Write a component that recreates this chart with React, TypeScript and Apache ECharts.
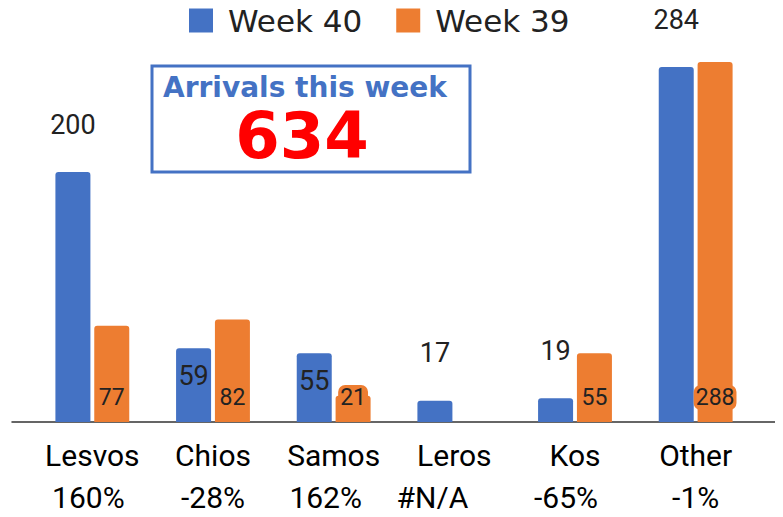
import React, { useEffect, useRef } from "react";
import * as echarts from "echarts";

const categories = ["Lesvos", "Chios", "Samos", "Leros", "Kos", "Other"];
const week40 = [200, 59, 55, 17, 19, 284];
const week39: (number | null)[] = [77, 82, 21, null, 55, 288];
const insideLabel40 = [false, true, true, false, false, false];
// horizontal nudge (px, to the left) of the percentage line under each category
const pctNudge = [4, 0, 8, 22, 9, 0];

const BLUE = "#4472C4";
const ORANGE = "#ED7D31";
const TEXT = "#222222";

function pct(a: number, b: number | null): string {
  if (b === null || b === 0) return "#N/A";
  return Math.round(((a - b) / b) * 100) + "%";
}

export default function App() {
  const ref = useRef<HTMLDivElement>(null);
  useEffect(() => {
    if (!ref.current) return;
    const chart = echarts.init(ref.current, null, { renderer: "svg" });
    const total = week40.reduce((s, v) => s + v, 0);
    const rich: Record<string, any> = {
      n: { fontSize: 30, lineHeight: 42, color: "#000", fontFamily: "Roboto" },
    };
    pctNudge.forEach((d, i) => {
      rich["p" + i] = {
        fontSize: 30,
        lineHeight: 42,
        color: "#000",
        fontFamily: "Roboto",
        padding: [0, d * 2, 0, 0],
      };
    });
    chart.setOption({
      animation: false,
      legend: {
        top: 0,
        left: 184,
        itemWidth: 24,
        itemHeight: 24,
        itemGap: 34,
        icon: "rect",
        textStyle: { fontSize: 31, color: TEXT, fontFamily: "DejaVu Sans", padding: [0, 0, 0, 10] },
        data: ["Week 40", "Week 39"],
      },
      grid: [
        { left: 32, right: 27, top: 47, bottom: 95 },
        { left: 12, right: 8, top: 47, bottom: 95 },
      ],
      xAxis: [
        {
          type: "category",
          gridIndex: 0,
          data: categories,
          axisLine: { show: false },
          axisTick: { show: false },
          axisLabel: {
            margin: 12,
            interval: 0,
            formatter: (v: string, i: number) =>
              "{n|" + v + "}\n{p" + i + "|" + pct(week40[i], week39[i]) + "}",
            rich,
          },
        },
        {
          type: "value",
          gridIndex: 1,
          min: 0,
          max: 1,
          axisLine: { show: true, lineStyle: { color: "#333", width: 1.5 } },
          axisTick: { show: false },
          axisLabel: { show: false },
          splitLine: { show: false },
        },
      ],
      yAxis: [
        { type: "value", gridIndex: 0, min: 0, max: 300, show: false },
        { type: "value", gridIndex: 1, min: 0, max: 1, show: false },
      ],
      series: [
        {
          name: "Week 40",
          type: "bar",
          xAxisIndex: 0,
          yAxisIndex: 0,
          barWidth: 35,
          barGap: "11%",
          itemStyle: { color: BLUE, borderRadius: [3, 3, 0, 0] },
          data: week40.map((v, i) => ({
            value: v,
            label: insideLabel40[i]
              ? { show: true, position: "insideTop", distance: 14 }
              : { show: true, position: "top", distance: 34 },
          })),
          label: { fontSize: 27, color: TEXT, fontFamily: "Roboto" },
        },
        {
          name: "Week 39",
          type: "bar",
          xAxisIndex: 0,
          yAxisIndex: 0,
          barWidth: 35,
          itemStyle: { color: ORANGE, borderRadius: [3, 3, 0, 0] },
          data: week39.map((v) => (v === null ? "-" : v)),
          label: {
            show: true,
            position: "insideBottom",
            distance: 12,
            fontSize: 23,
            color: TEXT,
            fontFamily: "Roboto",
            backgroundColor: ORANGE,
            borderRadius: 7,
            padding: [1, 2],
          },
        },
      ],
      graphic: [
        {
          type: "rect",
          shape: { x: 152, y: 66, width: 318, height: 106 },
          style: { fill: "#fff", stroke: BLUE, lineWidth: 3 },
          z: 10,
        },
        {
          type: "text",
          x: 305,
          y: 87,
          z: 11,
          style: {
            text: "Arrivals this week",
            fill: BLUE,
            font: "bold 28px 'DejaVu Sans'",
            textAlign: "center",
            textVerticalAlign: "middle",
          },
        },
        {
          type: "text",
          x: 302,
          y: 136,
          z: 11,
          style: {
            text: String(total),
            fill: "#FF0000",
            font: "bold 64px 'DejaVu Sans'",
            textAlign: "center",
            textVerticalAlign: "middle",
          },
        },
      ],
    });
    return () => chart.dispose();
  }, []);
  return <div ref={ref} style={{ width: 783, height: 517, margin: -8 }} />;
}
